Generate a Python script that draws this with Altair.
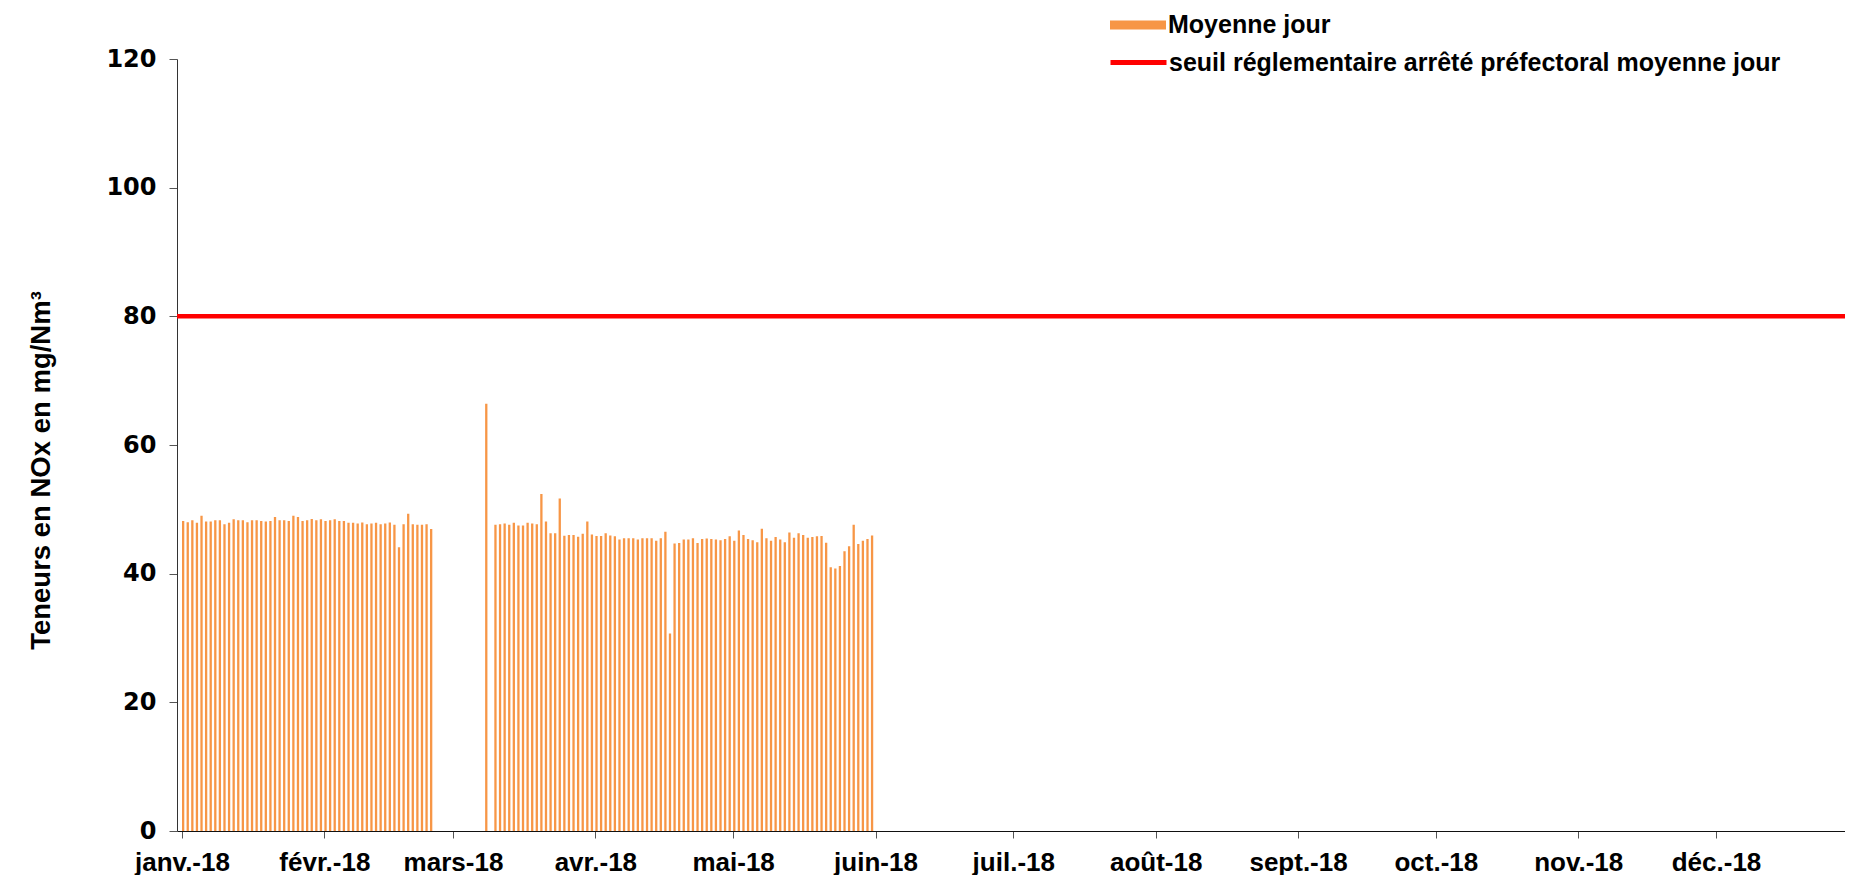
import json
import altair as alt
import pandas as pd

# ---- data (daily means, mg/Nm3) ----
jan_values = [48.2, 48.0, 48.3, 47.9, 49.0, 48.1, 48.1, 48.3, 48.3, 47.7, 47.9, 48.45,
              48.3, 48.3, 48.0, 48.3, 48.3, 48.2, 48.1, 48.2, 48.8, 48.3, 48.3, 48.2,
              49.0, 48.8, 48.2, 48.3, 48.5, 48.3, 48.45]
feb_values = [48.2, 48.3, 48.45, 48.2, 48.2, 47.9, 47.9, 47.8, 47.95, 47.7, 47.8, 47.9,
              47.7, 47.8, 47.95, 47.6, 44.1, 47.7, 49.3, 47.7, 47.6, 47.6, 47.7, 46.95,
              None, None, None, None]
mar_values = [None, None, None, None, None, None, None, 66.4, None,
              47.6, 47.7, 47.8, 47.6, 47.9, 47.5, 47.5, 47.9, 47.8, 47.7, 52.4, 48.1,
              46.3, 46.3, 51.7, 45.9, 46.0, 46.0, 45.75, 46.2, 48.1, 46.1]
apr_values = [45.85, 45.85, 46.3, 45.95, 45.8, 45.3, 45.5, 45.5, 45.5, 45.3, 45.5, 45.5,
              45.5, 45.1, 45.5, 46.5, 30.7, 44.7, 44.75, 45.3, 45.3, 45.5, 44.75, 45.4,
              45.45, 45.4, 45.3, 45.2, 45.4, 45.8]
may_values = [45.1, 46.7, 46.0, 45.4, 45.2, 44.9, 47.0, 45.5, 45.1, 45.7, 45.3, 44.9,
              46.4, 45.6, 46.3, 46.0, 45.6, 45.7, 45.8, 45.85, 44.8, 41.0, 40.8, 41.2,
              43.5, 44.25, 47.6, 44.6, 45.1, 45.4, 45.95]

threshold_value = 80
bar_name = "Moyenne jour"
rule_name = "seuil réglementaire arrêté préfectoral moyenne jour"
y_title = "Teneurs en NOx en mg/Nm³"
month_labels = ["janv.-18", "févr.-18", "mars-18", "avr.-18", "mai-18", "juin-18",
                "juil.-18", "août-18", "sept.-18", "oct.-18", "nov.-18", "déc.-18"]
y_ticks = [0, 20, 40, 60, 80, 100, 120]

bar_color = "#F79646"
rule_color = "#FF0000"

# ---- build tables ----
all_values = jan_values + feb_values + mar_values + apr_values + may_values
dates = pd.date_range("2018-01-01", periods=len(all_values), freq="D")
bars_df = pd.DataFrame({
    "date": [d.strftime("%Y-%m-%dT00:00:00") for d in dates],
    "value": all_values,
    "serie": bar_name,
}).dropna(subset=["value"])

rule_df = pd.DataFrame({"threshold": [threshold_value], "name": [rule_name]})

x_scale = alt.Scale(
    domain=[alt.DateTime(year=2018, month=1, date=1), alt.DateTime(year=2018, month=12, date=28)],
    nice=False,
)
y_scale = alt.Scale(domain=[0, 120], nice=False)

x_axis = alt.Axis(
    values=[alt.DateTime(year=2018, month=m, date=1) for m in range(1, 13)],
    labelExpr=json.dumps(month_labels, ensure_ascii=False) + "[month(datum.value)]",
    labelFont="Liberation Sans", labelFontSize=26, labelFontWeight="bold", labelColor="black",
    labelOverlap=False, labelFlush=False, labelAlign="center",
    tickSize=7, labelPadding=11, tickColor="#555555", domainColor="#111111",
    grid=False, title=None,
)
y_axis = alt.Axis(
    values=y_ticks,
    labelFont="DejaVu Sans", labelFontSize=24, labelFontWeight="bold", labelColor="black",
    tickSize=8, labelPadding=13, tickColor="#555555", domainColor="#333333",
    grid=False,
    title=y_title, titleFont="Liberation Sans", titleFontSize=27.5, titleFontWeight="bold",
    titleColor="black", titleAngle=270, titleX=-136, titleY=411,
    titleAlign="center", titleBaseline="middle",
)

legend_common = dict(
    title=None, orient="none", padding=0, symbolSize=3136,
    labelFont="Liberation Sans", labelFontSize=25, labelFontWeight="bold",
    labelColor="black", labelLimit=1000,
)

bars = alt.Chart(bars_df).mark_bar(width=2.3, xOffset=1.15).encode(
    x=alt.X("date:T", scale=x_scale, axis=x_axis),
    y=alt.Y("value:Q", scale=y_scale, axis=y_axis),
    color=alt.Color(
        "serie:N",
        scale=alt.Scale(domain=[bar_name], range=[bar_color]),
        legend=alt.Legend(
            legendX=933, legendY=-62, labelOffset=2,
            symbolType="M-1,-0.16H1V0.16H-1Z", symbolStrokeWidth=0,
            **legend_common,
        ),
    ),
)

rule = alt.Chart(rule_df).mark_rule(strokeWidth=4.5).encode(
    y=alt.Y("threshold:Q", scale=y_scale),
    stroke=alt.Stroke(
        "name:N",
        scale=alt.Scale(domain=[rule_name], range=[rule_color]),
        legend=alt.Legend(
            legendX=931, legendY=-27, labelOffset=0,
            symbolType="M-1,0H1", symbolStrokeWidth=5,
            **legend_common,
        ),
    ),
)

chart = alt.layer(bars, rule).properties(
    width=1668, height=772,
    autosize=alt.AutoSizeParams(type="none"),
    padding={"left": 169, "top": 51, "right": 0, "bottom": 44},
    background="white",
).configure_view(stroke=None)

chart.save("out.html", embed_options={"renderer": "svg", "actions": False})
